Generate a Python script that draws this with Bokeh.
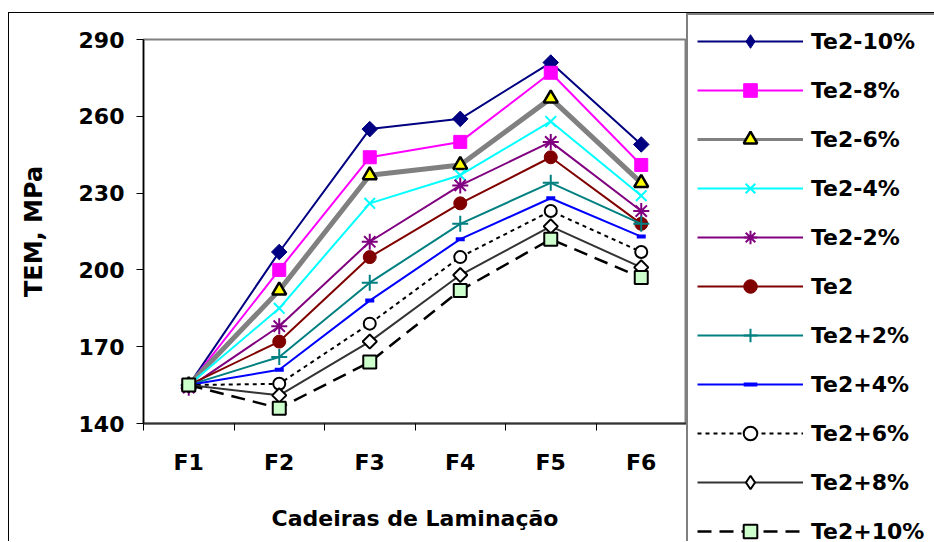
import math
from bokeh.plotting import figure
from bokeh.layouts import row
from bokeh.models import FixedTicker, Legend, LegendItem, Range1d
from bokeh.embed import file_html
from bokeh.resources import INLINE

# ---- data ----
categories = ["F1", "F2", "F3", "F4", "F5", "F6"]
y_ticks = [140, 170, 200, 230, 260, 290]

series_names = ["Te2-10%", "Te2-8%", "Te2-6%", "Te2-4%", "Te2-2%", "Te2",
                "Te2+2%", "Te2+4%", "Te2+6%", "Te2+8%", "Te2+10%"]

te2_m10 = [155, 207, 255, 259, 281, 249]
te2_m8 = [155, 200, 244, 250, 277, 241]
te2_m6 = [155, 192, 237, 241, 267, 234]
te2_m4 = [155, 185, 226, 237, 258, 229]
te2_m2 = [154, 178, 211, 233, 250, 223]
te2 = [155, 172, 205, 226, 244, 218]
te2_p2 = [155, 166, 195, 218, 234, 218]
te2_p4 = [155, 161, 188, 212, 228, 213]
te2_p6 = [155, 155.5, 179, 205, 223, 207]
te2_p8 = [155, 151, 172, 198, 217, 201]
te2_p10 = [155, 146, 164, 192, 212, 197]

values = [te2_m10, te2_m8, te2_m6, te2_m4, te2_m2, te2,
          te2_p2, te2_p4, te2_p6, te2_p8, te2_p10]

# ---- styles ----
FONT = "DejaVu Sans"
Q = math.pi / 4
styles = [
    dict(color="#000080", lw=2, llw=2, dash="solid", marker="square", lmarker="diamond",
         size=11, angle=Q, fill="#000080", mline="#000080", mlw=1),
    dict(color="#FF00FF", lw=2, llw=2, dash="solid", marker="square", lmarker="square",
         size=13, angle=0, fill="#FF00FF", mline="#FF00FF", mlw=1),
    dict(color="#808080", lw=5, llw=3, dash="solid", marker="triangle", lmarker="triangle",
         size=14, angle=0, fill="#FFFF00", mline="#000000", mlw=2.5),
    dict(color="#00FFFF", lw=2, llw=2, dash="solid", marker="x", lmarker="x",
         size=15, angle=0, fill="#00FFFF", mline="#00FFFF", mlw=2),
    dict(color="#800080", lw=2, llw=2, dash="solid", marker="asterisk", lmarker="asterisk",
         size=16, angle=0, fill="#800080", mline="#800080", mlw=2),
    dict(color="#800000", lw=2, llw=2, dash="solid", marker="circle", lmarker="circle",
         size=13, angle=0, fill="#800000", mline="#800000", mlw=1),
    dict(color="#008080", lw=2, llw=2, dash="solid", marker="cross", lmarker="cross",
         size=16, angle=0, fill="#008080", mline="#008080", mlw=2),
    dict(color="#0000FF", lw=2, llw=2, dash="solid", marker="dash", lmarker="dash",
         size=9, angle=0, fill="#0000FF", mline="#0000FF", mlw=4),
    dict(color="#000000", lw=2, llw=2, dash="4 4", marker="circle", lmarker="circle",
         size=12, angle=0, fill="#FFFFFF", mline="#000000", mlw=2),
    dict(color="#333333", lw=2, llw=2, dash="solid", marker="square", lmarker="diamond",
         size=10, angle=Q, fill="#FFFFFF", mline="#000000", mlw=2),
    dict(color="#000000", lw=2.5, llw=2.5, dash="14 8", marker="square", lmarker="square",
         size=13, angle=0, fill="#CCFFCC", mline="#000000", mlw=2),
]

xs = [i + 1 for i in range(len(categories))]

H = 528
FRAME_H = 384
TOP = 26
LEFT = 134
FRAME_W = 543
LEG_W = 248

# ---- main chart ----
p = figure(width=LEFT + FRAME_W, height=H,
           x_range=Range1d(0.5, len(categories) + 0.5),
           y_range=Range1d(y_ticks[0], y_ticks[-1]),
           output_backend="svg", toolbar_location=None,
           min_border_left=LEFT, min_border_right=0,
           min_border_top=TOP, min_border_bottom=H - TOP - FRAME_H)
p.frame_align = False
p.background_fill_color = "white"
p.border_fill_color = "white"
p.outline_line_color = "#808080"
p.outline_line_width = 2
p.xgrid.visible = False
p.ygrid.visible = False

for name, vals, st in zip(series_names, values, styles):
    p.line(xs, vals, line_color=st["color"], line_width=st["lw"], line_dash=st["dash"])
    p.scatter(xs, vals, marker=st["marker"], size=st["size"], angle=st["angle"],
              fill_color=st["fill"], line_color=st["mline"], line_width=st["mlw"])

p.yaxis.ticker = FixedTicker(ticks=y_ticks, minor_ticks=[])
p.yaxis.major_label_text_font = FONT
p.yaxis.major_label_text_font_size = "22px"
p.yaxis.major_label_text_font_style = "bold"
p.yaxis.major_label_text_color = "black"
p.yaxis.major_tick_out = 7
p.yaxis.major_tick_in = 0
p.yaxis.major_tick_line_color = "black"
p.yaxis.major_label_standoff = 12
p.yaxis.axis_line_color = "black"
p.yaxis.axis_line_width = 1.5
p.yaxis.axis_label = "TEM, MPa"
p.yaxis.axis_label_text_font = FONT
p.yaxis.axis_label_text_font_size = "24px"
p.yaxis.axis_label_text_font_style = "bold"
p.yaxis.axis_label_text_color = "black"
p.yaxis.axis_label_standoff = 28

p.xaxis.ticker = FixedTicker(ticks=xs, minor_ticks=[x - 0.5 for x in xs] + [xs[-1] + 0.5])
p.xaxis.major_label_overrides = {x: c for x, c in zip(xs, categories)}
p.xaxis.major_label_text_font = FONT
p.xaxis.major_label_text_font_size = "22px"
p.xaxis.major_label_text_font_style = "bold"
p.xaxis.major_label_text_color = "black"
p.xaxis.major_tick_out = 0
p.xaxis.major_tick_in = 0
p.xaxis.minor_tick_out = 7
p.xaxis.minor_tick_in = 0
p.xaxis.minor_tick_line_color = "black"
p.xaxis.major_label_standoff = 19
p.xaxis.axis_line_color = "#333333"
p.xaxis.axis_line_width = 2
p.xaxis.axis_label = "Cadeiras de Laminação"
p.xaxis.axis_label_text_font = FONT
p.xaxis.axis_label_text_font_size = "22px"
p.xaxis.axis_label_text_font_style = "bold"
p.xaxis.axis_label_text_color = "black"
p.xaxis.axis_label_standoff = 28

# ---- legend panel (separate figure, legend fills it) ----
pl = figure(width=LEG_W, height=H, x_range=Range1d(100, 101), y_range=Range1d(0, 1),
            output_backend="svg", toolbar_location=None,
            x_axis_location=None, y_axis_location=None,
            min_border_left=0, min_border_right=0, min_border_top=0, min_border_bottom=0)
pl.frame_align = False
pl.outline_line_color = None
pl.background_fill_color = "white"
pl.border_fill_color = "white"
pl.xgrid.visible = False
pl.ygrid.visible = False

items = []
for name, vals, st in zip(series_names, values, styles):
    r1 = pl.line(xs, vals, line_color=st["color"], line_width=st["llw"], line_dash=st["dash"])
    r2 = pl.scatter(xs, vals, marker=st["lmarker"], size=st["size"],
                    fill_color=st["fill"], line_color=st["mline"], line_width=st["mlw"])
    items.append(LegendItem(label=name, renderers=[r1, r2]))

legend = Legend(items=items, location="top_left",
                border_line_color="black", border_line_width=2,
                background_fill_color="white", background_fill_alpha=1,
                label_text_font=FONT, label_text_font_size="22px",
                label_text_font_style="bold", label_text_color="black",
                glyph_width=106, glyph_height=34, label_height=34,
                spacing=15, padding=9, label_standoff=8, label_width=150,
                margin=0)
pl.add_layout(legend)

layout = row(p, pl, spacing=0)
layout.styles = {"border-top": "1px solid black", "border-left": "1px solid black",
                 "margin-top": "12px", "margin-left": "8px"}

open("out.html", "w").write(file_html(layout, INLINE))
